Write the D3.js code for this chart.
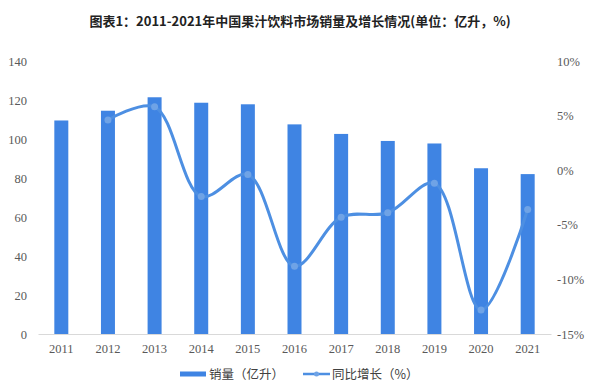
<!DOCTYPE html>
<html>
<head>
<meta charset="utf-8">
<script src="https://cdn.jsdelivr.net/npm/d3@7"></script>
<style>
  body { margin: 0; background: #fff; }
  svg { display: block; }
</style>
</head>
<body>
<svg id="chart" width="600" height="386"></svg>
<script>
const years = ['2011', '2012', '2013', '2014', '2015', '2016', '2017', '2018', '2019', '2020', '2021'];
const volume = [109.5, 114.5, 121.4, 118.6, 117.8, 107.5, 102.6, 99, 97.7, 85, 82];
const growth = [null, 4.6, 5.8, -2.4, -0.4, -8.8, -4.3, -3.9, -1.2, -12.8, -3.6];
const leftTicks = [0, 20, 40, 60, 80, 100, 120, 140];
const rightTicks = [-15, -10, -5, 0, 5, 10];

const barColor = '#3f84e3';
const lineColor = '#4d8fe2';
const textColor = '#595959';
const tickFont = '"Liberation Serif", "DejaVu Serif", serif';
const cjkFont = '"Noto Sans CJK SC", sans-serif';

const svg = d3.select('#chart');
const plotTop = 61, plotBottom = 334;

const x = d3.scaleBand().domain(years).range([38, 551]).paddingInner(0.7).paddingOuter(0.35);
const yLeft = d3.scaleLinear().domain([0, 140]).range([plotBottom, plotTop]);
const yRight = d3.scaleLinear().domain([-15, 10]).range([plotBottom, plotTop]);

// title
svg.append('text')
    .attr('x', 300).attr('y', 26)
    .attr('text-anchor', 'middle')
    .style('font-family', cjkFont)
    .style('font-size', '13px')
    .style('font-weight', 'bold')
    .style('fill', '#222')
    .text('图表1：2011-2021年中国果汁饮料市场销量及增长情况(单位：亿升，%)');

// bars
svg.append('g').selectAll('rect')
    .data(years.map((d, i) => ({ year: d, value: volume[i] })))
    .join('rect')
    .attr('x', d => x(d.year))
    .attr('y', d => yLeft(d.value))
    .attr('width', x.bandwidth())
    .attr('height', d => yLeft(0) - yLeft(d.value))
    .attr('fill', barColor);

// left axis
const leftAxis = svg.append('g')
    .attr('transform', 'translate(27,0)')
    .call(d3.axisLeft(yLeft).tickValues(leftTicks).tickSize(0).tickPadding(0));
leftAxis.select('.domain').remove();
leftAxis.selectAll('text')
    .style('font-family', tickFont).style('font-size', '12.5px').style('fill', textColor);

// right axis
const rightAxis = svg.append('g')
    .attr('transform', 'translate(557,0)')
    .call(d3.axisRight(yRight).tickValues(rightTicks).tickSize(0).tickPadding(0)
        .tickFormat(d => d + '%'));
rightAxis.select('.domain').remove();
rightAxis.selectAll('text')
    .style('font-family', tickFont).style('font-size', '12.5px').style('fill', textColor);

// x axis
const xAxis = svg.append('g')
    .attr('transform', `translate(0,${plotBottom})`)
    .call(d3.axisBottom(x).tickSize(0).tickPadding(10));
xAxis.select('.domain').attr('stroke', '#d9d9d9');
xAxis.selectAll('text')
    .style('font-family', tickFont).style('font-size', '12.5px').style('fill', textColor);

// growth line (smoothed)
const pts = years.map((d, i) => ({ year: d, value: growth[i] })).filter(d => d.value !== null);
const line = d3.line()
    .x(d => x(d.year) + x.bandwidth() / 2)
    .y(d => yRight(d.value))
    .curve(d3.curveCatmullRom.alpha(0.5));

svg.append('path')
    .datum(pts)
    .attr('d', line)
    .attr('fill', 'none')
    .attr('stroke', lineColor)
    .attr('stroke-width', 3);

svg.append('g').selectAll('circle')
    .data(pts)
    .join('circle')
    .attr('cx', d => x(d.year) + x.bandwidth() / 2)
    .attr('cy', d => yRight(d.value))
    .attr('r', 3.5)
    .attr('fill', '#6fa3e6');

// legend
const legend = svg.append('g').style('font-family', cjkFont).style('font-size', '12.5px').style('fill', '#404040');
legend.append('rect').attr('x', 180).attr('y', 371.5).attr('width', 26).attr('height', 5).attr('fill', barColor);
legend.append('text').attr('x', 209).attr('y', 378.5).text('销量（亿升）');
legend.append('line').attr('x1', 303).attr('x2', 330).attr('y1', 374).attr('y2', 374)
    .attr('stroke', lineColor).attr('stroke-width', 2.5);
legend.append('circle').attr('cx', 316.5).attr('cy', 374).attr('r', 2.5).attr('fill', '#6fa3e6');
legend.append('text').attr('x', 332).attr('y', 378.5).text('同比增长（%）');
</script>
</body>
</html>
